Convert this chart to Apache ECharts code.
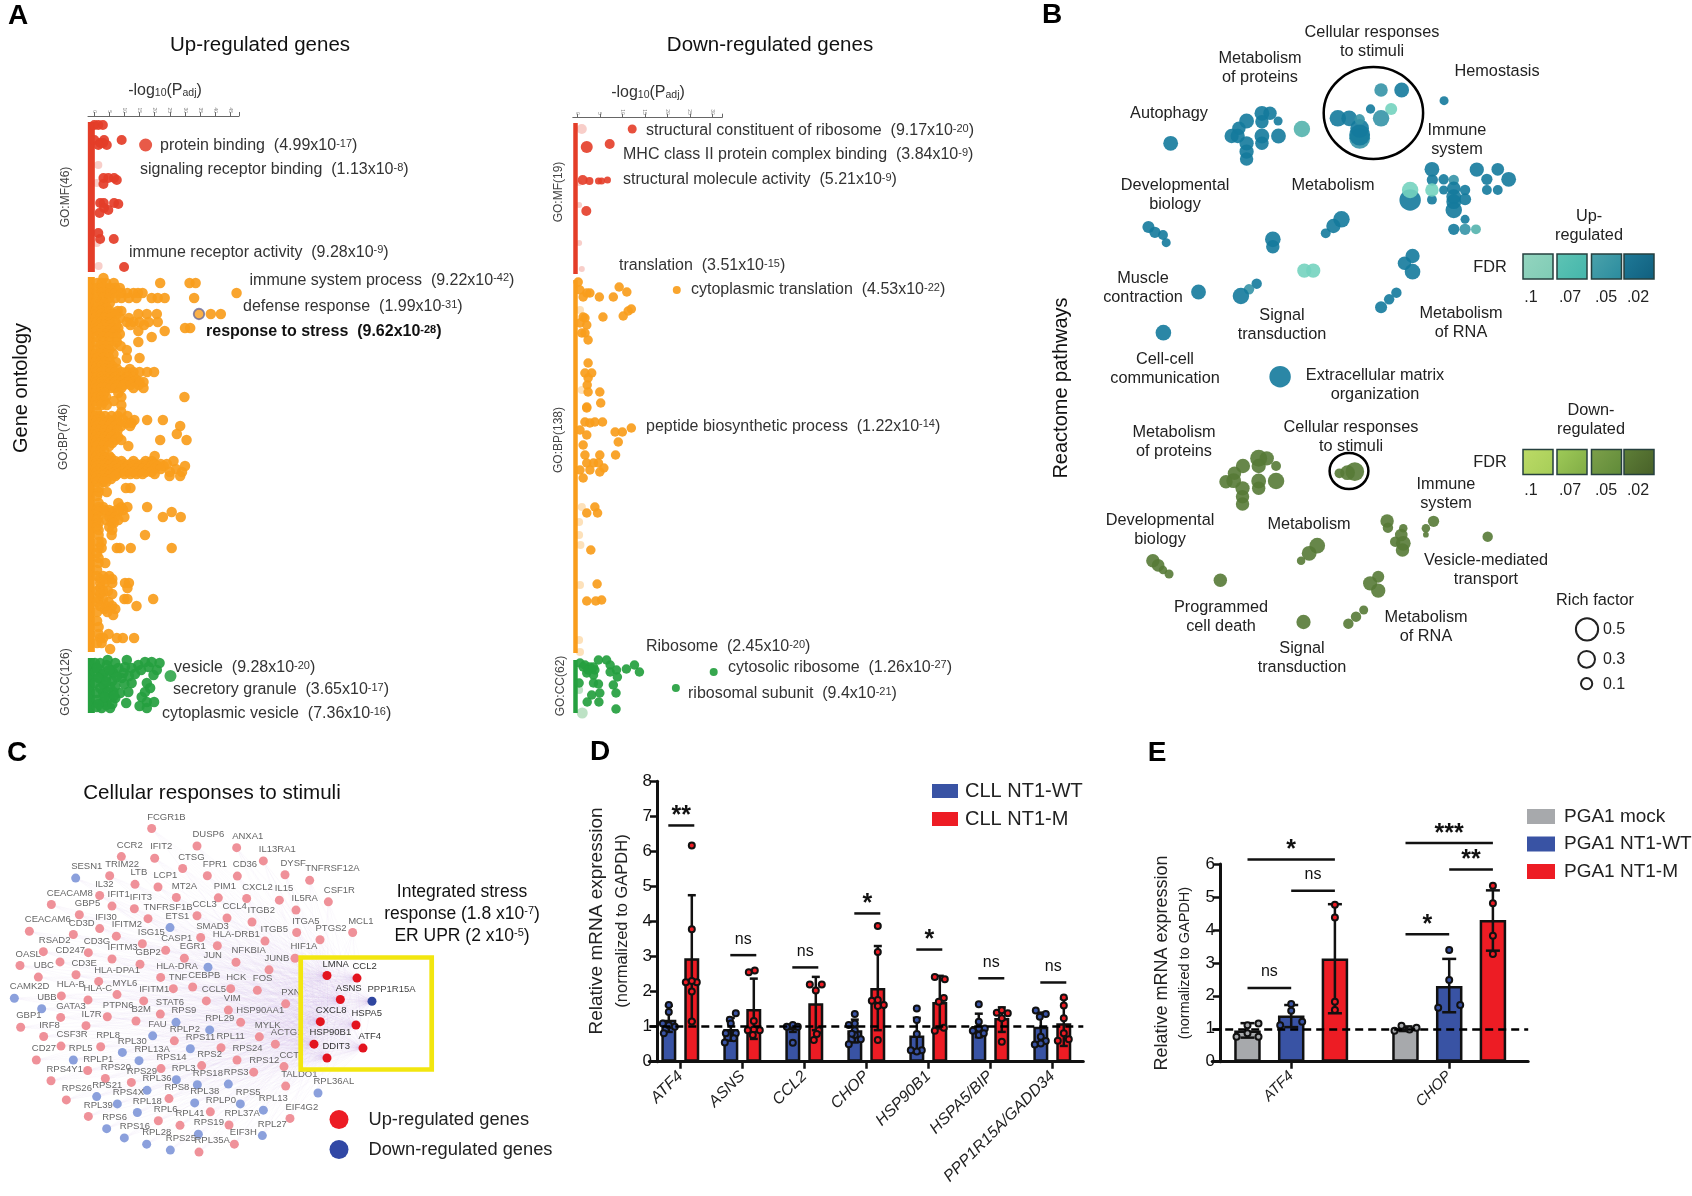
<!DOCTYPE html>
<html><head><meta charset="utf-8">
<style>html,body{margin:0;padding:0;background:#fff}#c{width:1692px;height:1196px}</style>
<script src="https://cdn.jsdelivr.net/npm/echarts@6/dist/echarts.min.js"></script>
</head><body><div id="c"></div>
<script>
// ---------- Panel A: rows of [term position, [-log10(Padj) ...]]
const upMF=[[7,[.1,1.4,2.9]],[22,[.1,3.3,9.1]],[25,[2,3]],[27,[1.4,4.2]],[60,[3.1,4.7,6.6]],[62,[7.5]],[66,[3.1]],[85,[2,3.2,6.6]],[86,[8]],[90,[3.3]],[92,[4.7]],[95,[1.8]],[115,[1.4]],[121,[2,6.5]],[149,[9.9]]];
const upMFBig=[[17,27,13]];
const upMFFaint=[[1.4,47],[.9,65],[.9,125],[1.5,148]];
const upBP=[[160,[3.1]],[165,[1,2.5,4,6.5,21.8,31.5,33.5]],[170,[1,2.5,4,5.5,7,8.5]],[175,[1,2.5,4,5.5,7,9,11,13,14.5,16,47]],[180,[1,3,5,7,9,11.5,14,19,21,23.3,33]],[185,[.6,2.2,3.6,5.2]],[190,[1,3,4.2]],[193,[.6,2.2,5.2,7.8,9]],[196,[1,2.5,4.5,6,7.5,14.6,17.4,20.7,38.5,41.8]],[200,[.6,2.2,3.6,5.2,8.6,11.5]],[204,[1,2.5,4,5.5,7,10.8,13,15,18,21]],[207,[.6,2.2,3.6,5.2,7.4,12,16.5]],[210,[1,2.5,4,6,8,30,31.7]],[213,[1,3,5,7,14.6,23.3]],[216,[2,4,6,8.5]],[219,[1,3,5,7.5,19]],[224,[1,3,5,7.5,14.6]],[228,[2,4,6.2,8.8]],[232,[1,3,5,10.8]],[236,[.6,2,4,6.4]],[240,[1,3,5,10.8,15]],[244,[.6,2,3.6,5.2,7.2]],[248,[1,2.5,4,6]],[251,[.6,2,3.6,5.2,7.6,11.8]],[254,[1,2.5,4,5.5,7,9,10.8,13,15,17.5,19.8]],[259,[1,2.5,4,5.5,7,9,11,13]],[262,[.6,2,3.4,4.8,6.2,7.8,9.8,12,14]],[264,[1,2.5,4,5.5,7,9,11,13,15,16.3]],[267,[.6,2,3.4,4.8,6.2,7.8,9.8,12,14.8]],[270,[1,2.5,4,5.5,7,9,13,16.3]],[275,[.6,2,3.4,8]],[279,[1,2.5,4,9,29.8]],[283,[.6,2,3.4,6.5]],[287,[1,2.5,4.2,9]],[294,[1,9]],[298,[.6,2,3.6,5.8,7.8,11]],[302,[1,3,5,7,9.7,13.3,17.5,22.7]],[305,[.6,2,3.6,5.8,8,10.5,12.4]],[308,[1,3,5,7,9,11.9,28.4]],[312,[.6,2,3.6,5.8,7.8]],[316,[1,3,5,7,27.3]],[319,[.6,2,3.6,5.8,8]],[322,[1,3,5,7,9,21.8,30.5]],[325,[.6,2,3.6,6]],[328,[1,3,5,11.3]],[333,[.6,2,3.4]],[338,[1,3,5,20]],[340,[.6,2,3.6,5.6]],[343,[1,3,5,7,9,13,17,19,26.2]],[346,[.6,2,3.6,5.6,7.6,10,12,14,16,18,20,22,24]],[348,[1,3,5,7,9,11,13,15,17,19,21,23,30]],[351,[.6,2,3.6,5.6,7.6,10,12,14,16,18,20,22,27]],[354,[1,3,5,7,9,11,13,15,17,19,25,29]],[356,[.6,2,3.6,5.6,7.6,10,12,14,16,20]],[358,[1,3,5,7,24.9,28.4]],[361,[.6,2,3.6,5.6]],[364,[1,3,4]],[370,[1.5,10.5,12]],[374,[1.5,4.2]],[378,[1]],[385,[1.5,8]],[389,[1.5,3,9,11,17.5]],[392,[1,3.4,5,7.4,9.6]],[394,[1.5,4,6,8,25.6]],[399,[1.5,5,7,10,22.7,28.6]],[402,[1,4,6,8]],[405,[1.5,5.8,6.5]],[409,[1,5]],[412,[1.5,6]],[417,[1.5,5.8,16.8]],[424,[1.5,2.5]],[430,[1.5,2.5,7.5,8.5,12.1,25.6]],[435,[1]],[440,[1.5]],[445,[1.5,3.7]],[452,[1]],[458,[1,3,5]],[461,[2,4,6]],[465,[2,3.5,6,10.2,11.5]],[470,[2,11]],[473,[1,3,4.6]],[476,[2,6]],[481,[1.5,3,10,11,19.5]],[484,[1,4.8]],[488,[2,4,6,14]],[491,[3.5,7]],[494,[1,4.4]],[497,[6.3]],[503,[1]],[509,[1.5]],[516,[1.5,4.8]],[520,[2,3,7.5,9.5,13.2]],[525,[1,2.5]],[531,[5.3]]];
const upBPHighlight=[[34.6,196]];
const upCC=[[.3,545],[2,545],[4.2,547],[5.8,552],[2,552],[.3,554],[4.2,559],[6.4,555],[.3,565],[3.1,567],[5.3,569],[.9,575],[6.4,574],[8.6,575],[.9,582],[3.1,584],[5.3,590],[.9,589],[10.8,542],[10.2,549],[9.7,555],[9.1,560],[12.4,550],[14.6,547],[16.8,544],[19,544],[21.6,545],[20.7,552],[19.6,557],[12.4,565],[17.4,565],[16.8,574],[15.7,579],[17.4,584],[19.8,584],[17.4,590],[10.6,585],[11.3,574],[4.5,542],[7,545],[8,550],[3,575],[5,580],[2,560],[6,563],[2.5,590],[4,587],[7,580],[1,550],[3,556],[5,552],[7.5,559],[1.5,560],[4,564],[7,568],[2,570],[4.5,574],[6.5,578],[1.5,586],[3.5,579],[6,586],[13.5,556],[15.5,552],[18,549],[10,566],[11.5,558],[18.5,570],[15,588]];
const upCCBig=[[25.2,558,12]];
const downMF=[[2.1,29,12],[7.2,26,10],[12.2,11,9],[1.2,62,10],[2.7,63,8],[4.7,63,7],[5.4,63,7],[6.7,62,7],[2,93,10]];
const downMFFaint=[[1,11,10],[.4,65],[.4,87],[.4,125],[1,151]];
const downBP=[[.2,164],[.6,172],[2.1,175],[2.8,175],[1.3,179],[4.9,179],[8,179],[9.3,169],[11,174],[22.1,172,8],[12,191],[11.3,193],[10.2,198],[5.7,199],[1.3,199],[1.7,200],[.6,205],[2.1,207],[1,215],[1.7,215],[2.4,222],[2.4,245],[1.7,255],[3.2,255],[2.4,260],[2.2,267],[2.4,274],[5,274],[5.2,285],[2.1,289],[2.1,290],[1.7,304],[2.8,305],[3.9,304],[5.6,304],[.6,312],[2.1,317],[1.3,327],[8.4,314],[10,314],[12,310],[9.1,324],[8.5,337],[5,337],[1.7,337],[2.1,345],[3.6,345],[4.7,345],[5.9,350],[.6,352],[1.3,360],[2.8,352],[5,354],[3.9,389],[2.1,395],[4.5,395],[3,432],[4.4,466],[2.1,483],[4.1,483],[5.4,482]];
const downBPFaint=[[.6,192],[1,272],[1,389],[.4,404],[.4,417],[.7,427],[.6,467],[.4,522],[.6,534]];
const downCC=[[.6,545],[1.7,547],[2.8,549],[3.9,552],[4.7,542],[6.5,542],[7.3,547],[2.1,555],[3.6,557],[7.3,554],[8.7,552],[8.9,559],[3.6,565],[4.7,566],[.4,565],[8,567],[8.6,575],[5,575],[3.2,577],[2.2,584],[4.8,584],[8.6,591],[10.9,551],[12.7,547],[13.8,554],[30.3,554,8],[21.9,570,8],[1.3,549],[2.4,552],[3.6,549]];
const downCCFaint=[[1.1,595,11],[.4,572]];
const upSpans={mf:[4,154],bp:[159,534],cc:[540,595]};
const downSpans={mf:[5,156],bp:[162,535],cc:[542,595]};

// ---------- Panel B: [embedding x, embedding y, rich factor, FDR]
const bubblesUp=[[846,240,.23,.02],[795,240,.18,.05],[769,297,.03,.02],[820,297,.13,.1],[795,325,.29,.05],[688,325,.29,.02],[716,325,.26,.02],[742,385,.45,.05],[742,375,.45,.02],[742,355,.37,.02],[742,328,.07,.05],[951,272,.02,.02],[274,400,.23,.02],
[500,310,.23,.02],[520,310,.18,.02],[540,333,.02,.02],[462,333,.23,.02],[500,335,.18,.02],[443,355,.18,.02],[425,378,.21,.02],[440,378,.21,.02],[500,378,.23,.02],[541,378,.23,.02],[500,400,.18,.02],[462,400,.21,.02],[462,425,.21,.02],[462,447,.18,.02],[599,357,.29,.07],
[921,478,.23,.02],[922,510,.1,.02],[950,508,.07,.02],[975,510,.07,.05],[975,535,.18,.02],[1003,540,.07,.02],[950,540,.02,.02],[1032,479,.21,.02],[1084,478,.15,.02],[1057,508,.1,.02],[1111,508,.23,.02],[1057,540,.05,.02],[1084,540,.05,.02],[975,560,.23,.02],[1003,568,.13,.02],[975,600,.29,.02],[975,575,.23,.02],[921,569,.05,.02],[867,570,.47,.02],[921,540,.18,.1],[867,540,.29,.1],[1003,628,.02,.02],[975,658,.1,.02],[1003,658,.1,.05],[1030,658,.05,.07],
[219,651,.13,.02],[235,667,.1,.02],[255,675,.05,.02],[263,698,.02,.02],[697,628,.29,.02],[677,648,.21,.02],[658,670,.05,.02],[527,688,.26,.02],[527,710,.18,.02],[605,782,.21,.1],[627,782,.21,.1],[487,821,.07,.02],[468,838,.07,.05],[448,858,.29,.02],[343,846,.23,.02],[873,738,.21,.02],[853,760,.18,.02],[873,785,.26,.02],[833,848,.07,.02],[815,868,.07,.02],[795,892,.13,.02],[256,968,.26,.02],[545,1100,.47,.02]];
const bubblesDown=[[730,275,.37],[712,278,.23],[692,280,.05],[492,235,.31],[512,235,.21],[535,258,.05],[453,258,.21],[492,258,.21],[432,280,.18],[430,302,.23],[411,305,.18],[492,303,.23],[535,303,.29],[492,325,.18],[452,325,.21],[452,350,.18],[452,372,.18],[810,423,.18],[812,443,.07],[850,445,.0],[845,465,.15],[830,485,.07],[850,490,.23],[848,510,.18],[925,424,.1],[906,445,0],[906,464,-.1],[1059,470,.07],[230,542,.18],[243,556,.15],[255,570,0],[270,582,.02],[397,601,.18],[637,497,.26],[617,520,.23],[597,542,0],[788,590,.13],[768,610,.21],[788,632,.21],[752,690,.02],[733,710,.07],[714,731,.07],[603,726,.21]];
const richLegend=[[1305,748,.5],[1304,838,.3],[1304,911,.1]];

// ---------- Panel C: [gene, layout x, layout y]
const netUp=[["FCGR1B",455,147],["DUSP6",591,200],["ANXA1",710,205],["IL13RA1",790,245],["DYSF",855,287],["CCR2",364,232],["IFIT2",464,237],["CTSG",548,268],["FPR1",622,290],["CD36",712,291],["TRIM22",329,290],["LTB",405,316],["LCP1",474,324],["IL32",299,350],["CEACAM8",154,377],["IFIT1",336,382],["IFIT3",403,390],["MT2A",529,356],["PIM1",655,357],["CXCL2",740,359],["IL15",838,364],["GBP5",238,408],["TNFRSF1B",444,420],["CCL3",591,411],["CCL4",681,418],["ITGB2",756,430],["IL5RA",888,394],["CEACAM6",88,458],["CD3D",220,468],["IFI30",299,450],["IFITM2",349,473],["SMAD3",602,477],["HLA-DRB1",652,502],["ITGB5",795,488],["ITGA5",890,462],["ISG15",427,496],["CASP1",497,516],["RSAD2",130,520],["CD3G",265,523],["CD247",180,551],["IFITM3",336,542],["GBP2",420,558],["EGR1",553,540],["OASL",60,562],["UBC",115,597],["CD3E",228,590],["HLA-DPA1",296,610],["HLA-DRA",482,598],["NFKBIA",708,552],["JUNB",807,575],["HIF1A",885,540],["PTGS2",960,484],["MCL1",1058,462],["TNFRSF12A",929,304],["CSF1R",985,369],
["TNF",520,632],["CEBPB",578,627],["HCK",692,632],["FOS",772,637],["PXN",857,678],["CCL5",619,669],["VIM",685,697],["HSP90AA1",722,734],["MYLK",778,778],["ACTG1",826,800],["HLA-B",184,654],["HLA-C",264,666],["MYL6",351,650],["IFITM1",431,669],["PTPN6",322,717],["B2M",408,730],["STAT6",481,709],["GATA3",182,719],["IL7R",258,744],["GBP1",62,749],["IRF8",131,777],["RPLP2",523,790],["RPL11",663,811],["CSF3R",183,806],["RPL8",302,808],["RPS24",711,848],["CD27",109,848],["RPLP1",263,880],["RPS14",483,874],["RPS2",605,865],["RPS12",761,885],["CCT",852,868],["RPS4Y1",153,911],["RPS20",316,904],["RPS29",394,916],["TALDO1",857,927],["RPS26",199,969],["RPS8",507,965],["EIF4G2",870,1025],["RPL39",265,1019],["RPL6",475,1032],["RPL41",540,1046],["RPLP0",631,1005],["RPL37A",687,1045],["RPL35A",597,1127],["EIF3H",703,1103]];
const netDown=[["SESN1",227,297],["ETS1",510,447],["JUN",624,567],["CAMK2D",43,661],["UBB",125,693],["RPS9",528,734],["RPL29",629,757],["FAU",458,775],["RPS11",571,814],["RPL30",367,825],["RPL13A",417,850],["RPL5",220,848],["RPL3",529,908],["RPS18",592,923],["RPS3",685,921],["RPS21",290,959],["RPS4X",352,981],["RPL36",441,940],["RPL38",584,978],["RPS5",721,981],["RPL13",790,1000],["RPL18",412,1007],["RPS6",320,1056],["RPS16",373,1084],["RPL28",440,1103],["RPS25",511,1121],["RPS19",595,1073],["RPL27",787,1077],["RPL36AL",954,948]];
const stressUp=[["LMNA",981,592],["CCL2",1071,600],["ASNS",1021,665],["CXCL8",961,732],["HSPA5",1068,742],["HSP90B1",942,800],["DDIT3",981,842],["ATF4",1089,812]];
const stressDown=[["PPP1R15A",1116,670]];

// ---------- Panel D
const dGenes=["ATF4","ASNS","CCL2","CHOP","HSP90B1","HSPA5/BIP","PPP1R15A/GADD34"];
const dMeanWT=[1.2,.93,.97,.9,.75,1.02,1.0];
const dMeanM=[2.95,1.5,1.67,2.1,1.7,1.25,1.1];
const dErrWT=[[.85,1.6],[.6,1.25],[.85,1.05],[.55,1.2],[.25,1.25],[.7,1.37],[.55,1.4]];
const dErrM=[[1.15,4.75],[.65,2.37],[.9,2.42],[.9,3.3],[.95,2.45],[.85,1.55],[.45,1.8]];
const dDotsWT=[[0,1.62,0],[0,1.42,0],[0,1.09,-6],[0,1.04,0],[0,1,6],[0,.81,-5],[1,1.38,5],[1,1.2,-1],[1,1.09,0],[1,.81,-5],[1,.81,5],[1,.55,-6],[1,.67,3],[2,1,-6],[2,1.05,0],[2,1,5],[2,.54,0],[3,1.36,0],[3,1.05,-6],[3,1.09,0],[3,.9,0],[3,.64,6],[3,.5,-6],[3,.76,0],[3,.8,-3],[4,1.52,0],[4,1.19,0],[4,.79,0],[4,.33,-6],[4,.33,5],[4,.29,0],[5,1.64,0],[5,1.14,0],[5,.88,-6],[5,.95,6],[5,.95,0],[5,.76,0],[5,.81,5],[6,1.46,-5],[6,1.36,5],[6,1.28,-1],[6,.71,0],[6,.49,-6],[6,.59,5],[6,.52,0]];
const dDotsM=[[0,6.17,0],[0,3.78,0],[0,2.27,-6],[0,2.27,5],[0,2.3,0],[0,2,0],[0,1.15,0],[1,2.55,-5],[1,2.6,1],[1,1.16,0],[1,.9,-6],[1,.9,6],[1,.92,0],[1,.76,-1],[2,2.2,-6],[2,2.03,0],[2,2.2,6],[2,.9,3],[2,.62,-2],[2,.79,1],[3,3.87,0],[3,3.13,0],[3,1.76,0],[3,1.74,-6],[3,1.62,6],[3,1.59,0],[3,.62,0],[4,2.42,-5],[4,2.35,5],[4,1.82,4],[4,1.71,-1],[4,.88,-5],[4,.97,4],[5,1.4,-5],[5,1.47,0],[5,1.38,6],[5,1.24,0],[5,.57,0],[6,1.83,0],[6,1.6,0],[6,1.24,0],[6,.6,-6],[6,.64,5],[6,.81,0]];
const dSig=[[0,6.74,"**"],[1,3.04,"ns"],[2,2.69,"ns"],[3,4.23,"*"],[4,3.2,"*"],[5,2.38,"ns"],[6,2.26,"ns"]];

// ---------- Panel E
const eGenes=["ATF4","CHOP"];
const eMeanMock=[.95,1.0];
const eMeanWT=[1.4,2.3];
const eMeanM=[3.13,4.3];
const eErrMock=[[.73,1.17],[.93,1.07]];
const eErrWT=[[1.05,1.72],[1.5,3.12]];
const eErrM=[[1.47,4.78],[3.37,5.2]];
const eDotsMock=[[0,.76,-11],[0,1.11,0],[0,1.16,11],[0,.76,11],[0,.86,0],[1,.94,-11],[1,1.09,-4],[1,.98,4],[1,1.03,11]];
const eDotsWT=[[0,1.75,0],[0,1.55,0],[0,1.11,-11],[0,1.21,11],[1,3.39,0],[1,2.48,0],[1,1.64,-11],[1,1.72,11]];
const eDotsM=[[0,4.76,0],[0,4.38,0],[0,1.82,0],[0,1.57,0],[1,5.34,0],[1,4.81,0],[1,3.82,0],[1,3.27,0]];
const eSig=[[0,0,2,6.14,"*"],[0,1,2,5.19,"ns"],[0,0,1,2.24,"ns"],[1,0,2,6.64,"***"],[1,1,2,5.83,"**"],[1,0,1,3.87,"*"]];

// ---------- helpers / styling
const FF='"Liberation Sans",Arial,sans-serif';
const RED='#ed1c24',BLUE='#3953a4',GRAY='#a7a9ac';
const cA={mf:'#e43d28',bp:'#f99d1c',cc:'#25a03f'};
const fdrUp={.02:'#147a9c',.05:'#3593a7',.07:'#53b3ad',.1:'#74d3bf'};
const flat=r=>r.flatMap(([p,xs])=>xs.map(x=>[x,p]));
const bubbleSize=v=>8.5+27.5*v[2];

function scatter(g,data,color,size,opacity){
  return {type:'scatter',xAxisIndex:g,yAxisIndex:g,data,clip:false,silent:true,
    symbolSize:v=>v[2]||size,itemStyle:{color,opacity:opacity==null?.92:opacity}};
}
function span(g,x,range,color,w){
  return {type:'line',xAxisIndex:g,yAxisIndex:g,data:[[x,range[0]],[x,range[1]]],symbol:'none',clip:false,silent:true,
    lineStyle:{color,width:w,cap:'butt'},z:1};
}
function errSeries(g,errs,off,cap){
  return {type:'custom',xAxisIndex:g,yAxisIndex:g,clip:false,silent:true,z:3,data:errs.map((e,i)=>[i,e[0],e[1]]),encode:{x:0,y:[1,2]},
    renderItem(p,api){
      const a=api.coord([api.value(0),api.value(1)]),b=api.coord([api.value(0),api.value(2)]);
      const x=a[0]+off,st={stroke:'#111',lineWidth:2.5,fill:null};
      const L=(x1,y1,x2,y2)=>({type:'line',shape:{x1,y1,x2,y2},style:st});
      return {type:'group',children:[L(x,a[1],x,b[1]),L(x-cap,a[1],x+cap,a[1]),L(x-cap,b[1],x+cap,b[1])]};
    }};
}
function dotSeries(g,dots,off,color){
  return {type:'custom',xAxisIndex:g,yAxisIndex:g,clip:false,silent:true,z:4,data:dots,encode:{x:0,y:1},
    renderItem(p,api){
      const c=api.coord([api.value(0),api.value(1)]);
      return {type:'circle',shape:{cx:c[0]+off+api.value(2),cy:c[1],r:3},style:{fill:color,stroke:'#111',lineWidth:2}};
    }};
}
function barSeries(g,name,data,color,w,gap,dash){
  const s={type:'bar',name,xAxisIndex:g,yAxisIndex:g,data,barWidth:w,barGap:gap,silent:true,
    itemStyle:{color,borderColor:'#111',borderWidth:2.5}};
  if(dash) s.markLine={silent:true,symbol:'none',animation:false,z:5,label:{show:false},lineStyle:{color:'#000',width:2.5,type:[8,5]},data:[{yAxis:1}]};
  return s;
}
function sigStyle(t){return t==='ns'?{font:'16px '+FF,up:16}:{font:'bold 25px '+FF,up:9};}

// axes
const hidden=(min,max,inverse)=>({show:false,type:'value',min,max,inverse});
const aTop=(gi,min,max,ticks)=>({type:'value',gridIndex:gi,position:'top',min,max,splitLine:{show:false},
  axisLine:{show:true,onZero:false,lineStyle:{color:'#666',width:1}},
  axisTick:{show:true,length:4,lineStyle:{color:'#666'},customValues:ticks.concat([max])},
  axisLabel:{show:true,rotate:90,fontSize:5,color:'#888',margin:3,fontFamily:FF,customValues:ticks}});
const barY=(gi,max,offset)=>({type:'value',gridIndex:gi,min:0,max,interval:1,offset,splitLine:{show:false},
  axisLine:{show:true,onZero:false,lineStyle:{color:'#111',width:3}},axisTick:{show:true,length:7,lineStyle:{color:'#111',width:2.5}},
  axisLabel:{fontSize:17,color:'#111',margin:5,fontFamily:FF}});
const barX=(gi,cats,fs)=>({type:'category',gridIndex:gi,data:cats,axisLine:{show:true,onZero:false,lineStyle:{color:'#111',width:3}},
  axisTick:{show:true,length:7,alignWithLabel:true,lineStyle:{color:'#111',width:2.5}},
  axisLabel:{rotate:45,interval:0,fontSize:fs,fontStyle:'italic',color:'#222',margin:12,fontFamily:FF},splitLine:{show:false}});

// network nodes and links
const nd=(arr,color,lab)=>arr.map(([name,x,y])=>({name,value:[x,y],itemStyle:{color},label:{color:lab}}));
const nodes=[...nd(netUp,'#ef9199','#666'),...nd(netDown,'#8ba0dc','#666'),...nd(stressUp,'#e3141f','#333'),...nd(stressDown,'#2f46a0','#444')];
const hubs=[...stressUp,...stressDown].map(d=>d[0]);
const links=[];nodes.forEach(n=>hubs.forEach(h=>{if(n.name!==h)links.push({source:n.name,target:h});}));

// text annotations
const rich={sup:{fontSize:11,fontFamily:FF,verticalAlign:'top',padding:[0,0,5,0],fill:'#333'},
  supb:{fontSize:11,fontWeight:'bold',fontFamily:FF,verticalAlign:'top',padding:[0,0,5,0],fill:'#111'},
  sub:{fontSize:10.5,fontFamily:FF,verticalAlign:'bottom',padding:[4,0,0,0],fill:'#333'}};
const termsUp=[["protein binding  (4.99x10","-17",160,146],["signaling receptor binding  (1.13x10","-8",140,170],["immune receptor activity  (9.28x10","-9",129,252.5],["immune system process  (9.22x10","-42",249.5,280.5],["defense response  (1.99x10","-31",243,307],["vesicle  (9.28x10","-20",174,668],["secretory granule  (3.65x10","-17",173,690],["cytoplasmic vesicle  (7.36x10","-16",162,714]];
const termsDown=[["structural constituent of ribosome  (9.17x10","-20",646,131],["MHC class II protein complex binding  (3.84x10","-9",623,155],["structural molecule activity  (5.21x10","-9",623,180],["translation  (3.51x10","-15",619,266],["cytoplasmic translation  (4.53x10","-22",691,290],["peptide biosynthetic process  (1.22x10","-14",646,426.5],["Ribosome  (2.45x10","-20",646,647],["cytosolic ribosome  (1.26x10","-27",728,667.5],["ribosomal subunit  (9.4x10","-21",688,694]];
const goLabels=[["GO:MF(46)",66,197],["GO:BP(746)",64,437],["GO:CC(126)",66,682],["GO:MF(19)",559,192],["GO:BP(138)",559,440],["GO:CC(62)",561,686]];
const reactomeLabels=[["Cellular responses\nto stimuli",1372,42],["Metabolism\nof proteins",1260,68],["Autophagy",1169,114],["Hemostasis",1497,72],["Immune\nsystem",1457,140],["Developmental\nbiology",1175,195],["Metabolism",1333,186],["Muscle\ncontraction",1143,288],["Signal\ntransduction",1282,325],["Metabolism\nof RNA",1461,323],["Cell-cell\ncommunication",1165,369],["Extracellular matrix\norganization",1375,385],["Metabolism\nof proteins",1174,442],["Cellular responses\nto stimuli",1351,437],["Developmental\nbiology",1160,530],["Metabolism",1309,525],["Immune\nsystem",1446,494],["Vesicle-mediated\ntransport",1486,570],["Programmed\ncell death",1221,617],["Signal\ntransduction",1302,658],["Metabolism\nof RNA",1426,627],["Up-\nregulated",1589,226],["Down-\nregulated",1591,420],["FDR",1490,268],["FDR",1490,463],["Rich factor",1595,601]];
const fdrTicks=[".1",".07",".05",".02"];
const fdrX=[1531,1570,1606,1638];
const swX=[1523,1557,1591.5,1624];
const swUp=[['#93d5bf','#7fcbb5'],['#5ec4b4','#44b5ab'],['#4ba3ab','#2a8b9e'],['#1f7a98','#105f7e']];
const swDown=[['#bcdb66','#a6cd58'],['#9fcb58','#80ab45'],['#7da04a','#5f8a38'],['#5f7f38','#476028']];
const richTicks=[["0.5",630],["0.3",660],["0.1",685]];
const letters=[["A",18,16],["B",1052,15],["C",17,753],["D",600,752],["E",1157,753]];

const T=(text,x,y,o={})=>({type:'text',x,y,rotation:o.rot||0,silent:true,z:20,style:{text,fontFamily:FF,fontSize:o.fs||15,fontWeight:o.w||'normal',fill:o.c||'#222',align:o.a||'center',verticalAlign:'middle',lineHeight:o.lh,rich:o.rich}});
const G=[];
letters.forEach(l=>G.push(T(l[0],l[1],l[2],{fs:28,w:'bold',c:'#000'})));
G.push(T("Up-regulated genes",260,45,{fs:20.5,c:'#111'}),T("Down-regulated genes",770,45,{fs:20.5,c:'#111'}));
G.push(T("Gene ontology",21,388,{fs:20,c:'#111',rot:Math.PI/2}),T("Reactome pathways",1061,388,{fs:20,c:'#111',rot:Math.PI/2}));
G.push(T("-log{sub|10}(P{sub|adj})",165,91,{fs:16,c:'#333',rich}),T("-log{sub|10}(P{sub|adj})",648,93,{fs:16,c:'#333',rich}));
[...termsUp,...termsDown].forEach(t=>G.push(T(t[0]+`{sup|${t[1]}})`,t[2],t[3],{fs:16,a:'left',c:'#333',rich})));
G.push(T("response to stress  (9.62x10{supb|-28})",206,332,{fs:16,a:'left',w:'bold',c:'#111',rich}));
goLabels.forEach(t=>G.push(T(t[0],t[1],t[2],{fs:12,c:'#444',rot:Math.PI/2})));
reactomeLabels.forEach(t=>G.push(T(t[0],t[1],t[2],{fs:16.3,lh:19.5,c:'#222'})));
fdrTicks.forEach((t,i)=>{G.push(T(t,fdrX[i],298,{fs:16}),T(t,fdrX[i],491,{fs:16}));});
const sw=(x,y,c)=>({type:'rect',silent:true,z:15,shape:{x,y,width:30,height:25},style:{stroke:'#26403f',lineWidth:1.5,fill:new echarts.graphic.LinearGradient(0,0,1,1,[{offset:0,color:c[0]},{offset:1,color:c[1]}])}});
swX.forEach((x,i)=>{G.push(sw(x,254,swUp[i]),sw(x,449.5,swDown[i]));});
richTicks.forEach(t=>G.push(T(t[0],1614,t[1],{fs:16})));
const ring=(cx,cy,rx,ry)=>({type:'ellipse',silent:true,z:15,shape:{cx,cy,rx,ry},style:{fill:null,stroke:'#000',lineWidth:2.5}});
G.push(ring(1373.4,113,49.7,46),ring(1349,471,19.4,18));
G.push(T("Cellular responses to stimuli",212,793,{fs:20.6,c:'#111'}));
const sc={sc:{fontSize:11,fontFamily:FF,verticalAlign:'top',padding:[0,0,5,0]}};
G.push(T("Integrated stress",462,892,{fs:17.5,c:'#111'}),T("response (1.8 x10{sc|-7})",462,914,{fs:17.5,c:'#111',rich:sc}),T("ER UPR (2 x10{sc|-5})",462,936,{fs:17.5,c:'#111',rich:sc}));
G.push({type:'rect',silent:true,z:15,shape:{x:300.7,y:957.5,width:131,height:112},style:{fill:null,stroke:'#f2e60f',lineWidth:4.7}});
G.push(T("Relative mRNA expression",597,921,{fs:19,c:'#222',rot:Math.PI/2}),T("(normalized to GAPDH)",622,921,{fs:16.5,c:'#222',rot:Math.PI/2}));
G.push(T("Relative mRNA expression",1162,963,{fs:18,c:'#222',rot:Math.PI/2}),T("(normalized to GAPDH)",1185,963,{fs:14.5,c:'#222',rot:Math.PI/2}));

// series
const EO=43.7;
const series=[
 span(0,-.9,upSpans.mf,cA.mf,7),span(0,-.9,upSpans.bp,cA.bp,7),span(0,-.9,upSpans.cc,cA.cc,7),
 scatter(0,upMFFaint,cA.mf,8,.25),scatter(0,flat(upMF),cA.mf,10),scatter(0,upMFBig,cA.mf,10,.85),
 scatter(0,flat(upBP),cA.bp,10.5),scatter(0,upCC,cA.cc,10.5),scatter(0,upCCBig,cA.cc,10.5,.85),
 Object.assign(scatter(0,upBPHighlight,cA.bp,10.5,1),{itemStyle:{color:cA.bp,borderColor:'#6a6a9a',borderWidth:1.8}}),
 span(1,-.4,downSpans.mf,cA.mf,4.5),span(1,-.4,downSpans.bp,cA.bp,4.5),span(1,-.4,downSpans.cc,cA.cc,4.5),
 scatter(1,downMFFaint,cA.mf,6,.25),scatter(1,downMF,cA.mf,9,.9),
 scatter(1,downBPFaint,cA.bp,8,.3),scatter(1,downBP,cA.bp,9.5),
 scatter(1,downCCFaint,cA.cc,8,.3),scatter(1,downCC,cA.cc,9.5),
 {type:'scatter',xAxisIndex:2,yAxisIndex:2,data:bubblesUp,silent:true,clip:false,symbolSize:bubbleSize,itemStyle:{opacity:.9,color:p=>fdrUp[p.value[3]]}},
 {type:'scatter',xAxisIndex:3,yAxisIndex:3,data:bubblesDown,silent:true,clip:false,symbolSize:bubbleSize,itemStyle:{opacity:.9,color:'#567a36'}},
 {type:'scatter',xAxisIndex:3,yAxisIndex:3,data:richLegend,silent:true,clip:false,symbolSize:bubbleSize,itemStyle:{color:'#fff',borderColor:'#222',borderWidth:2,opacity:1}},
 {type:'graph',coordinateSystem:'cartesian2d',xAxisIndex:4,yAxisIndex:4,layout:'none',silent:true,symbolSize:9,data:nodes,links,
  lineStyle:{color:'#8d78b4',opacity:.04,width:.6},edgeSymbol:['none','none'],
  label:{show:true,position:'top',align:'left',offset:[-4.5,0],fontSize:9.5,fontFamily:FF,distance:2}},
 {type:'scatter',name:'Up-regulated genes',xAxisIndex:4,yAxisIndex:4,data:[],itemStyle:{color:'#ec1c24',opacity:1}},
 {type:'scatter',name:'Down-regulated genes',xAxisIndex:4,yAxisIndex:4,data:[],itemStyle:{color:'#3148a5',opacity:1}},
 barSeries(5,'CLL NT1-WT',dMeanWT,BLUE,15,'53%',true),barSeries(5,'CLL NT1-M',dMeanM,RED,15,'53%'),
 errSeries(5,dErrWT,-11.5,4),errSeries(5,dErrM,11.5,4),dotSeries(5,dDotsWT,-11.5,BLUE),dotSeries(5,dDotsM,11.5,RED),
 {type:'custom',xAxisIndex:5,yAxisIndex:5,clip:false,silent:true,z:4,data:dSig.map(s=>[s[0],s[1]]),encode:{x:0,y:1},
  renderItem(p,api){const c=api.coord([api.value(0),api.value(1)]),s=sigStyle(dSig[p.dataIndex][2]);
   return {type:'group',children:[{type:'line',shape:{x1:c[0]-12,y1:c[1],x2:c[0]+14,y2:c[1]},style:{stroke:'#111',lineWidth:2.5}},
    {type:'text',style:{text:dSig[p.dataIndex][2],x:c[0]+1,y:c[1]-s.up,align:'center',verticalAlign:'middle',font:s.font,fill:'#111'}}]};}},
 barSeries(6,'PGA1 mock',eMeanMock,GRAY,26.5,'65%',true),barSeries(6,'PGA1 NT1-WT',eMeanWT,BLUE,26.5,'65%'),barSeries(6,'PGA1 NT1-M',eMeanM,RED,26.5,'65%'),
 errSeries(6,eErrMock,-EO,7),errSeries(6,eErrWT,0,7),errSeries(6,eErrM,EO,7),
 dotSeries(6,eDotsMock,-EO,GRAY),dotSeries(6,eDotsWT,0,BLUE),dotSeries(6,eDotsM,EO,RED),
 {type:'custom',xAxisIndex:6,yAxisIndex:6,clip:false,silent:true,z:4,data:eSig.map(s=>[s[0],s[3]]),encode:{x:0,y:1},
  renderItem(p,api){const c=api.coord([api.value(0),api.value(1)]),e=eSig[p.dataIndex],s=sigStyle(e[4]);
   const x1=c[0]+(e[1]-1)*EO,x2=c[0]+(e[2]-1)*EO;
   return {type:'group',children:[{type:'line',shape:{x1,y1:c[1],x2,y2:c[1]},style:{stroke:'#111',lineWidth:2.5}},
    {type:'text',style:{text:e[4],x:(x1+x2)/2,y:c[1]-s.up,align:'center',verticalAlign:'middle',font:s.font,fill:'#111'}}]};}}
];

const legend=(names,left,top,icon,w,h,gap,fs,pad)=>({data:names,orient:'vertical',left,top,icon,itemWidth:w,itemHeight:h,itemGap:gap,selectedMode:false,
  itemStyle:{borderWidth:0},textStyle:{fontSize:fs,fontFamily:FF,color:'#222',padding:[0,0,0,pad]},padding:0});

const option={animation:false,backgroundColor:'#fff',graphic:G,
 grid:[{left:88,top:116,width:151,height:602},{left:572.8,top:117.7,width:149,height:600.3},
  {left:1060,top:10,width:630,height:370},{left:1060,top:380,width:630,height:330},
  {left:0,top:780,width:440,height:420},{left:649.3,top:781.3,width:434,height:280.4},{left:1212.2,top:864,width:316,height:197.7}],
 xAxis:[aTop(0,-2,47.8,[0,5,10,15,20,25,30,35,40,45]),aTop(1,-1,32.1,[0,5,10,15,20,25,30]),
  {...hidden(0,1560),gridIndex:2},{...hidden(0,1560),gridIndex:3},{...hidden(0,1320),gridIndex:4},barX(5,dGenes,16),barX(6,eGenes,15)],
 yAxis:[{...hidden(-2,600,true),gridIndex:0},{...hidden(-.3,600,true),gridIndex:1},
  {...hidden(0,1110,true),gridIndex:2},{...hidden(0,990,true),gridIndex:3},{...hidden(0,1260,true),gridIndex:4},barY(5,8,-7.7),barY(6,6,-7.7)],
 legend:[legend(['CLL NT1-WT','CLL NT1-M'],932,781,'rect',26,14,8,20,2),
  legend(['PGA1 mock','PGA1 NT1-WT','PGA1 NT1-M'],1527,807,'rect',28,15,8.5,19,4),
  legend(['Up-regulated genes','Down-regulated genes'],329.5,1110,'circle',19,19,11,18.3,15)],
 series};
const chart=echarts.init(document.getElementById('c'),null,{renderer:'canvas'});
chart.setOption(option);
</script></body></html>
